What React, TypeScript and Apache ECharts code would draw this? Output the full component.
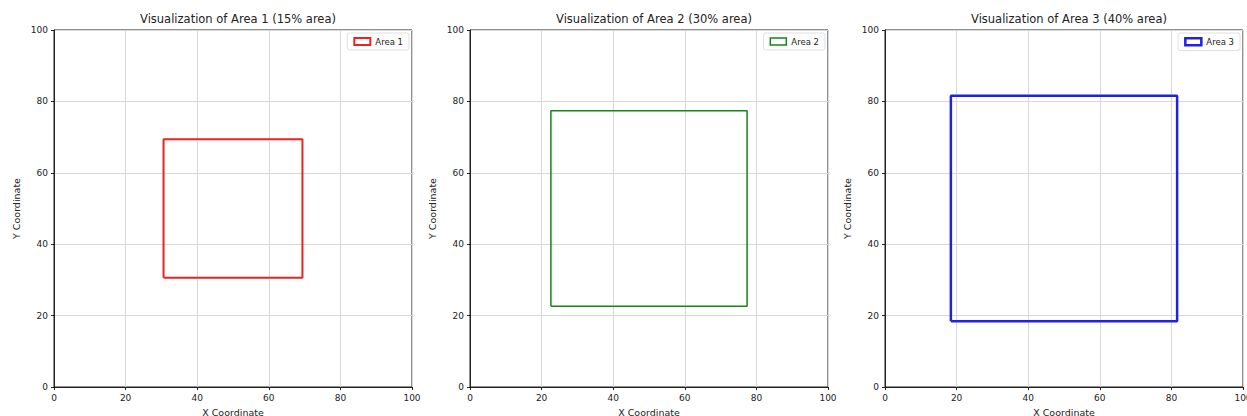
import React, { useEffect, useRef } from "react";
import * as echarts from "echarts";

const areaNames = ["Area 1", "Area 2", "Area 3"];
const areaPercents = [15, 30, 40];
const rectX1 = [30.6, 22.6, 18.4];
const rectX2 = [69.4, 77.4, 81.6];
const rectY1 = [30.6, 22.6, 18.4];
const rectY2 = [69.4, 77.4, 81.6];
const colors = ["#ee2222", "#118811", "#2222dd"];
const lineWidths = [2, 1.5, 2.5];
const gridLefts = [54, 470, 885];
const axisTicks = [0, 20, 40, 60, 80, 100];

export default function App() {
  const ref = useRef<HTMLDivElement>(null);
  useEffect(() => {
    if (!ref.current) return;
    const chart = echarts.init(ref.current, null, { renderer: "svg" });
    const gridW = 358;
    const gridTop = 30;
    const gridH = 357;
    const font = "DejaVu Sans";
    const grids = gridLefts.map((l) => ({
      left: l,
      top: gridTop,
      width: gridW,
      height: gridH,
      containLabel: false,
      outerBoundsMode: "none",
      show: true,
      borderColor: "#222",
      borderWidth: 1,
      backgroundColor: "#fff",
    }));
    const mkAxis = (i: number, dim: "x" | "y") => ({
      type: "value",
      gridIndex: i,
      min: axisTicks[0],
      max: axisTicks[axisTicks.length - 1],
      interval: 20,
      name: dim === "x" ? "X Coordinate" : "Y Coordinate",
      nameLocation: "middle",
      nameGap: dim === "x" ? 20 : 33,
      nameTextStyle: { fontFamily: font, fontSize: 9.5, color: "#222" },
      axisLine: { show: true, onZero: false, lineStyle: { color: "#222", width: 1 } },
      axisTick: { show: true, length: 3, lineStyle: { color: "#222" } },
      axisLabel: { fontFamily: font, fontSize: 9, color: "#222", margin: 6 },
      splitLine: { show: true, lineStyle: { color: "#d8d8d8", width: 1 } },
    });
    const option: any = {
      animation: false,
      backgroundColor: "#fff",
      title: areaNames.map((n, i) => ({
        text: `Visualization of ${n} (${areaPercents[i]}% area)`,
        left: gridLefts[i] + gridW / 2,
        textAlign: "center",
        top: 8,
        textStyle: { fontFamily: font, fontSize: 11.5, fontWeight: "normal", color: "#222" },
      })),
      legend: areaNames.map((n, i) => ({
        data: [
          {
            name: n,
            icon: "rect",
            itemStyle: { color: "#fff", borderColor: colors[i], borderWidth: lineWidths[i] },
          },
        ],
        right: 1247 - (gridLefts[i] + gridW) + 3,
        top: gridTop + 3,
        orient: "vertical",
        itemWidth: 16,
        itemHeight: 7,
        itemGap: 6,
        padding: [4, 6],
        borderColor: "#e0e0e0",
        borderWidth: 1,
        borderRadius: 2,
        backgroundColor: "#fff",
        textStyle: { fontFamily: font, fontSize: 8.5, color: "#222" },
      })),
      grid: grids,
      xAxis: gridLefts.map((_, i) => mkAxis(i, "x")),
      yAxis: gridLefts.map((_, i) => mkAxis(i, "y")),
      series: areaNames.map((n, i) => ({
        name: n,
        type: "line",
        xAxisIndex: i,
        yAxisIndex: i,
        showSymbol: false,
        symbol: "none",
        color: colors[i],
        lineStyle: { color: colors[i], width: lineWidths[i] },
        data: [
          [rectX1[i], rectY1[i]],
          [rectX2[i], rectY1[i]],
          [rectX2[i], rectY2[i]],
          [rectX1[i], rectY2[i]],
          [rectX1[i], rectY1[i]],
        ],
      })),
    };
    chart.setOption(option);
    return () => chart.dispose();
  }, []);
  return (
    <div
      ref={ref}
      style={{ position: "fixed", left: 0, top: 0, width: 1247, height: 416 }}
    />
  );
}
